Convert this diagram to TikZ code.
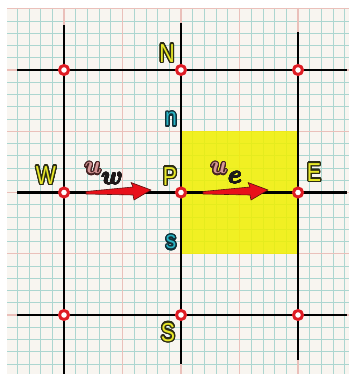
\documentclass[tikz,border=0pt]{standalone}
\usepackage{fontspec}
\usepackage{bm}
\newfontfamily\labfont{Liberation Sans}
\usepackage{contour}
\contourlength{1.5pt}
\contournumber{24}
\definecolor{paper}{RGB}{248,245,240}
\definecolor{minorline}{RGB}{172,214,208}
\definecolor{majorline}{RGB}{234,192,186}
\definecolor{cvyellow}{RGB}{240,240,0}
\definecolor{labyellow}{RGB}{232,232,40}
\definecolor{labdark}{RGB}{45,45,20}
\definecolor{labcyan}{RGB}{40,180,196}
\definecolor{cyandark}{RGB}{16,48,56}
\definecolor{ringred}{RGB}{222,28,36}
\definecolor{arrowred}{RGB}{232,16,26}
\definecolor{arrowdark}{RGB}{90,16,16}
\definecolor{upink}{RGB}{214,150,150}
\definecolor{udark}{RGB}{70,35,35}
\definecolor{subdark}{RGB}{30,25,25}
\tikzset{
  minor/.style={draw=minorline, line width=0.8pt},
  major/.style={draw=majorline, line width=1.2pt},
  gridline/.style={draw=black, line width=2.8pt},
  gpoint/.style={circle, draw=ringred, fill=white, line width=3pt, minimum size=9pt, inner sep=0pt},
  caplab/.style={font=\labfont\fontsize{26}{26}\selectfont, inner sep=0pt},
  smalllab/.style={font=\labfont\fontsize{25}{25}\selectfont, inner sep=0pt},
  ulab/.style={font=\fontsize{28}{28}\selectfont, inner sep=0pt},
  sublab/.style={font=\fontsize{24}{24}\selectfont, inner sep=0pt},
  arrowstyle/.style={fill=arrowred, draw=arrowdark, line width=0.6pt, line join=round},
  fatarrow/.pic={\path[arrowstyle] (0,-1) -- (47,-5.5) -- (45,-10) -- (65,-2.5) -- (48,7.5) -- (47,2.5) -- (0,1.5) -- cycle;}
}
\newcommand{\yl}[1]{\scalebox{0.82}[1]{\contour{labdark}{\textcolor{labyellow}{#1}}}}
\newcommand{\cl}[1]{\scalebox{0.85}[1]{\contour{cyandark}{\textcolor{labcyan}{#1}}}}
\newcommand{\ul}{{\contourlength{1.2pt}\contour{udark}{\textcolor{upink}{$\bm{u}$}}}}
\newcommand{\sub}[1]{{\contourlength{0.5pt}\contour{subdark}{\textcolor{subdark}{$\bm{#1}$}}}}
\begin{document}
\begin{tikzpicture}[x=1pt,y=-1pt]
\useasboundingbox (0,0) rectangle (349,374);
% graph paper
\fill[paper] (7,8) rectangle (349,374);
\foreach \i in {-4,...,24} \draw[minor] ({64+11.7*\i},8) -- ({64+11.7*\i},374);
\foreach \j in {-5,...,24} \draw[minor] (7,{70+12.25*\j}) -- (349,{70+12.25*\j});
\foreach \i in {0,...,4} \draw[major] ({64+58.5*\i},8) -- ({64+58.5*\i},374);
\foreach \j in {-1,...,4} \draw[major] (7,{70+61.25*\j}) -- (349,{70+61.25*\j});
% control volume
\fill[cvyellow, opacity=0.85] (181,131.25) rectangle (298,253.75);
% line ends
\coordinate (tW) at (64,25);  \coordinate (bW) at (64,374);
\coordinate (tP) at (181,23); \coordinate (bP) at (181,364);
\coordinate (tE) at (298,32); \coordinate (bE) at (298,360);
\coordinate (lN) at (17,70);  \coordinate (rN) at (347,70);
\coordinate (lP) at (17,192.5); \coordinate (rP) at (347,192.5);
\coordinate (lS) at (17,315); \coordinate (rS) at (347,315);
\draw[gridline] (tW) -- (bW);
\draw[gridline] (tP) -- (bP);
\draw[gridline] (tE) -- (bE);
\draw[gridline] (lN) -- (rN);
\draw[gridline] (lP) -- (rP);
\draw[gridline] (lS) -- (rS);
% arrows
\coordinate (tailw) at (86,192.5);
\coordinate (taile) at (203,192.5);
\pic at (tailw) {fatarrow};
\pic at (taile) {fatarrow};
% grid points
\node[gpoint] (NW) at (64,70) {};
\node[gpoint] (N)  at (181,70) {};
\node[gpoint] (NE) at (298,70) {};
\node[gpoint] (W)  at (64,192.5) {};
\node[gpoint] (P)  at (181,192.5) {};
\node[gpoint] (E)  at (298,192.5) {};
\node[gpoint] (SW) at (64,315) {};
\node[gpoint] (S)  at (181,315) {};
\node[gpoint] (SE) at (298,315) {};
% labels
\node[caplab] (labN) at (167,54) {\yl{N}};
\node[smalllab] (labn) at (171,120) {\cl{n}};
\node[caplab] (labW) at (46,176) {\yl{W}};
\node[caplab] (labP) at (170,177) {\yl{P}};
\node[caplab] (labE) at (314,173) {\yl{E}};
\node[smalllab] (labs) at (171,243) {\cl{s}};
\node[caplab] (labS) at (168,333) {\yl{S}};
\node[ulab] (uw) at (93,169) {\ul};
\node[sublab] (subw) at (112,179) {\sub{w}};
\node[ulab] (ue) at (219,169) {\ul};
\node[sublab] (sube) at (235,178) {\sub{e}};
\end{tikzpicture}
\end{document}
